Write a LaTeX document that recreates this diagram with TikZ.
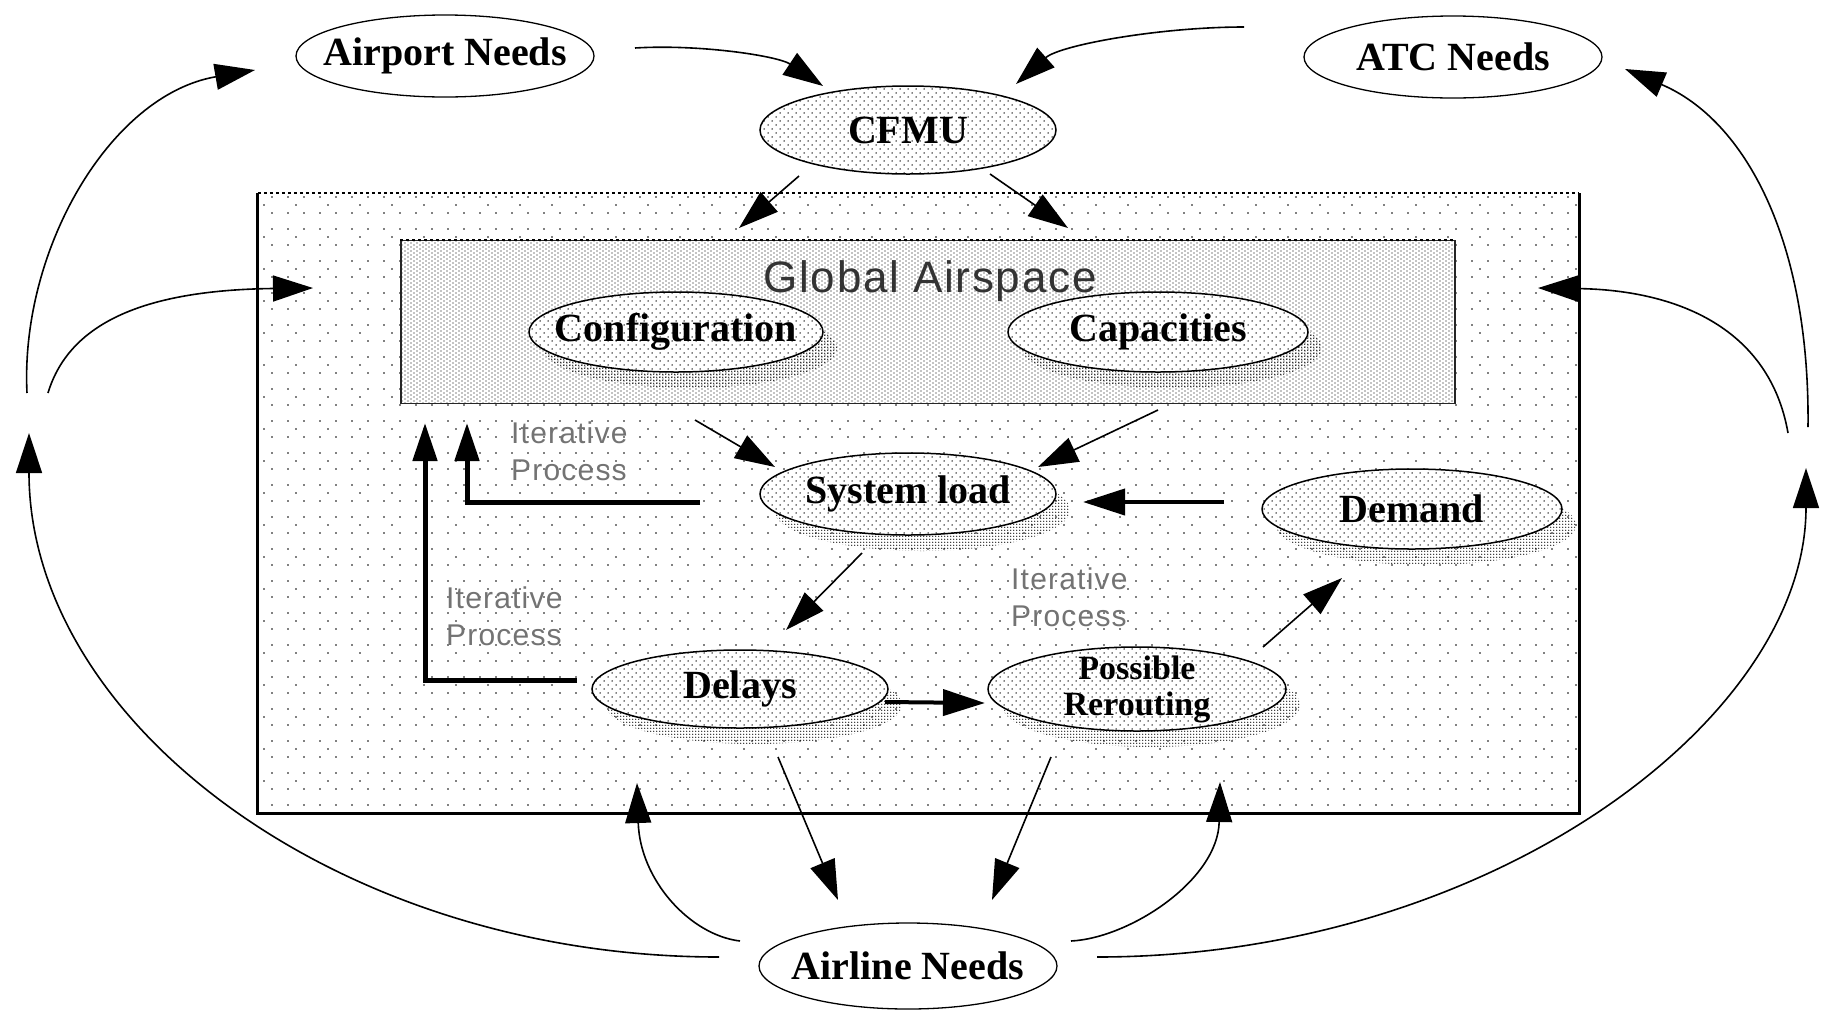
\documentclass[tikz,border=0pt]{standalone}
\usepackage{fontspec}
\setmainfont{Liberation Serif}
\setsansfont{Liberation Sans}
\newfontfamily\spacedsans[LetterSpace=4]{Liberation Sans}
\usetikzlibrary{arrows.meta,patterns,shapes.geometric}

% halftone-like dot fills
\pgfdeclarepatternformonly{sparsedots}{\pgfqpoint{-1pt}{-1pt}}{\pgfqpoint{31pt}{31pt}}{\pgfqpoint{32pt}{32pt}}{%
  \pgfpathcircle{\pgfqpoint{0pt}{0pt}}{0.9pt}%
  \pgfpathcircle{\pgfqpoint{16pt}{0pt}}{0.9pt}%
  \pgfpathcircle{\pgfqpoint{0pt}{16pt}}{0.9pt}%
  \pgfpathcircle{\pgfqpoint{16pt}{16pt}}{0.9pt}%
  \pgfpathcircle{\pgfqpoint{8pt}{8pt}}{0.9pt}%
  \pgfusepath{fill}}
\pgfdeclarepatternformonly{middots}{\pgfqpoint{-1pt}{-1pt}}{\pgfqpoint{7pt}{7pt}}{\pgfqpoint{8pt}{8pt}}{%
  \pgfpathcircle{\pgfqpoint{0pt}{0pt}}{0.75pt}%
  \pgfpathcircle{\pgfqpoint{4pt}{4pt}}{0.75pt}%
  \pgfusepath{fill}}
\pgfdeclarepatternformonly{densedots}{\pgfqpoint{-1pt}{-1pt}}{\pgfqpoint{5pt}{3pt}}{\pgfqpoint{6pt}{4pt}}{%
  \pgfpathcircle{\pgfqpoint{0pt}{0pt}}{0.65pt}%
  \pgfpathcircle{\pgfqpoint{3pt}{2pt}}{0.65pt}%
  \pgfusepath{fill}}
\pgfdeclarepatternformonly{shadowdots}{\pgfqpoint{-1pt}{-1pt}}{\pgfqpoint{2pt}{2pt}}{\pgfqpoint{3pt}{3pt}}{%
  \pgfpathcircle{\pgfqpoint{0pt}{0pt}}{0.7pt}%
  \pgfusepath{fill}}

\pgfdeclarelayer{back}
\pgfdeclarelayer{shade}
\pgfsetlayers{back,shade,main}

\newcommand\ellshadow[3]{\path[pattern=shadowdots] ([shift={(14,16)}]#1.center) ellipse [x radius=#2pt, y radius=#3pt];}

\tikzset{
  % negative inner sep keeps the ellipse at its minimum size around wide labels
  needs/.style={ellipse, draw=black, line width=1.3pt, fill=white,
    inner xsep=-80pt, inner ysep=-20pt,
    minimum width=298pt, minimum height=82pt, font=\bfseries\fontsize{40}{40}\selectfont},
  dotted ellipse/.style={ellipse, draw=black, line width=1.5pt, preaction={fill=white},
    pattern=middots, inner xsep=-80pt, inner ysep=-20pt,
    font=\bfseries\fontsize{40}{40}\selectfont},
  iterlabel/.style={anchor=west, align=left, text=black!55, inner sep=0pt,
    font=\spacedsans\fontsize{30}{37}\selectfont},
  arr/.style={line width=1.6pt, -{Triangle[length=40pt,width=26pt]}},
  thickarr/.style={line width=4pt, -{Triangle[length=42pt,width=26pt]}},
  looparr/.style={line width=5pt, -{Triangle[length=38pt,width=24pt]}}
}

\begin{document}
\begin{tikzpicture}[x=1pt,y=-1pt]
\useasboundingbox (0,0) rectangle (1821,1013);

% ---- system boundary and global airspace block
\begin{pgfonlayer}{back}
  \node[pattern=sparsedots, minimum width=1321pt, minimum height=620pt, inner sep=0pt]
    (system) at (918.5,503) {};
  \draw[line width=3pt] (system.north west) -- (system.south west)
    -- (system.south east) -- (system.north east);
  \draw[line width=2pt, dashed] (system.north west) -- (system.north east);
  \node[preaction={fill=white}, pattern=densedots, draw=black!85, line width=1.5pt,
    minimum width=1054pt, minimum height=163pt, inner sep=0pt] (global) at (928,322) {};
  \draw[line width=2.5pt, dashed] (global.north west) -- (global.north east);
  \node[text=black!80, font=\spacedsans\fontsize{44}{44}\selectfont, inner sep=0pt]
    (globaltitle) at (930,281) {Global Airspace};
\end{pgfonlayer}

% ---- ellipses
\node[needs] (airport) at (445,56) {Airport Needs};
\node[needs] (atc) at (1453,57) {ATC Needs};
\node[needs, minimum height=86pt] (airline) at (908,966) {Airline Needs};
\node[dotted ellipse, minimum width=296pt, minimum height=88pt] (cfmu) at (908,130) {CFMU};
\node[dotted ellipse, minimum width=294pt, minimum height=80pt] (conf) at (676,332) {Configuration};
\node[dotted ellipse, minimum width=300pt, minimum height=80pt] (capa) at (1158,332) {Capacities};
\node[dotted ellipse, minimum width=296pt, minimum height=82pt] (sysload) at (908,494) {System load};
\node[dotted ellipse, minimum width=300pt, minimum height=80pt] (demand) at (1412,509) {Demand};
\node[dotted ellipse, minimum width=296pt, minimum height=78pt] (delays) at (740,689) {Delays};
\node[dotted ellipse, minimum width=298pt, minimum height=84pt, align=center,
  font=\bfseries\fontsize{34}{36}\selectfont] (reroute) at (1137,689) {Possible\\Rerouting};

% ---- drop shadows of the inner ellipses
\begin{pgfonlayer}{shade}
  \ellshadow{conf}{147}{40}
  \ellshadow{capa}{150}{40}
  \ellshadow{sysload}{148}{41}
  \ellshadow{demand}{150}{40}
  \ellshadow{delays}{148}{39}
  \ellshadow{reroute}{149}{42}
\end{pgfonlayer}

% ---- labels of the feedback loops
\node[iterlabel] (iterA) at (511,451) {Iterative\\Process};
\node[iterlabel] (iterB) at (446,616) {Iterative\\Process};
\node[iterlabel] (iterC) at (1011,597) {Iterative\\Process};

% ---- connector end points
\coordinate (airportOut) at (635,48);
\coordinate (cfmuInL) at (823,86);
\coordinate (atcOut) at (1244,27);
\coordinate (cfmuInR) at (1016,84);
\coordinate (cfmuOutL) at (799,176);
\coordinate (systemInL) at (739,228);
\coordinate (cfmuOutR) at (990,174);
\coordinate (systemInR) at (1068,228);
\coordinate (leftOuterFoot) at (27,393);
\coordinate (airportIn) at (255,70);
\coordinate (leftInnerFoot) at (48,393);
\coordinate (systemInW) at (313,288);
\coordinate (rightOuterFoot) at (1808,427);
\coordinate (atcIn) at (1625,69);
\coordinate (rightInnerFoot) at (1788,433);
\coordinate (systemInE) at (1538,288);
\coordinate (airlineOutWL) at (719,957);
\coordinate (leftTip) at (29,433);
\coordinate (airlineOutEL) at (1097,957);
\coordinate (rightTip) at (1806,468);
\coordinate (airlineOutW) at (740,941);
\coordinate (systemInSW) at (637,783);
\coordinate (airlineOutE) at (1071,941);
\coordinate (systemInSE) at (1220,782);
\coordinate (confOut) at (695,420);
\coordinate (sysloadInL) at (775,467);
\coordinate (capaOut) at (1158,410);
\coordinate (sysloadInR) at (1038,467);
\coordinate (demandOut) at (1224,502);
\coordinate (sysloadInE) at (1083,502);
\coordinate (sysloadOut) at (862,553);
\coordinate (delaysIn) at (786,630);
\coordinate (delaysOut) at (885,702);
\coordinate (rerouteIn) at (985,703);
\coordinate (rerouteOut) at (1263,647);
\coordinate (demandIn) at (1342,578);
\coordinate (delaysDown) at (778,757);
\coordinate (airlineInL) at (838,900);
\coordinate (rerouteDown) at (1051,757);
\coordinate (airlineInR) at (992,900);
\coordinate (loopAStart) at (700,502);
\coordinate (loopACorner) at (467,502);
\coordinate (loopATip) at (467,423);
\coordinate (loopBStart) at (577,680);
\coordinate (loopBCorner) at (425,680);
\coordinate (loopBTip) at (425,423);

% ---- needs feeding the flow management unit
\draw[arr] (airportOut) .. controls (700,44) and (778,56) .. (cfmuInL);
\draw[arr] (atcOut) .. controls (1160,27) and (1060,45) .. (cfmuInR);
\draw[arr] (cfmuOutL) -- (systemInL);
\draw[arr] (cfmuOutR) -- (systemInR);

% ---- outer loops on the left
\draw[arr] (leftOuterFoot) .. controls (20,250) and (110,95) .. (airportIn);
\draw[arr] (leftInnerFoot) .. controls (70,320) and (150,290) .. (systemInW);
\draw[arr] (airlineOutWL) .. controls (338,957) and (29,722) .. (leftTip);

% ---- outer loops on the right
\draw[arr] (rightOuterFoot) .. controls (1810,240) and (1745,120) .. (atcIn);
\draw[arr] (rightInnerFoot) .. controls (1770,330) and (1680,290) .. (systemInE);
\draw[arr] (airlineOutEL) .. controls (1489,957) and (1806,720) .. (rightTip);

% ---- airline needs back into the system
\draw[arr] (airlineOutW) .. controls (690,935) and (640,880) .. (systemInSW);
\draw[arr] (airlineOutE) .. controls (1130,938) and (1218,880) .. (systemInSE);

% ---- internal flow
\draw[arr] (confOut) -- (sysloadInL);
\draw[arr] (capaOut) -- (sysloadInR);
\draw[thickarr] (demandOut) -- (sysloadInE);
\draw[arr] (sysloadOut) -- (delaysIn);
\draw[thickarr] (delaysOut) -- (rerouteIn);
\draw[arr] (rerouteOut) -- (demandIn);
\draw[arr] (delaysDown) -- (airlineInL);
\draw[arr] (rerouteDown) -- (airlineInR);

% ---- iterative feedback paths
\draw[looparr] (loopAStart) -- (loopACorner) -- (loopATip);
\draw[looparr] (loopBStart) -- (loopBCorner) -- (loopBTip);
\end{tikzpicture}
\end{document}
